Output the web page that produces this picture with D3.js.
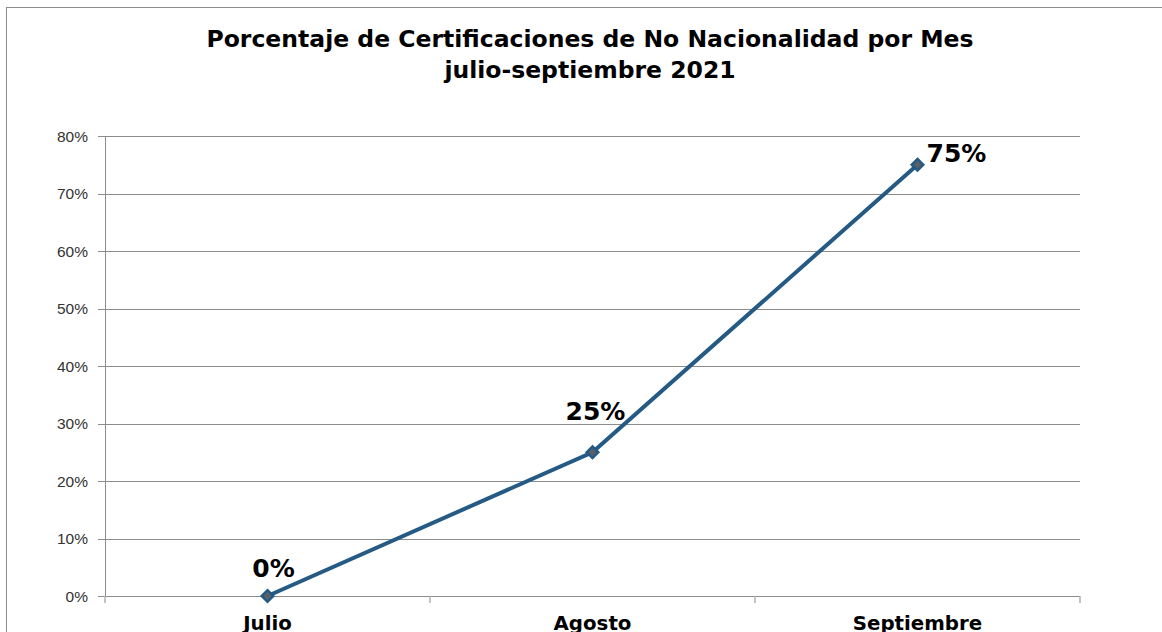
<!DOCTYPE html>
<html>
<head>
<meta charset="utf-8">
<script src="https://cdn.jsdelivr.net/npm/d3@7"></script>
<style>
  body { margin: 0; background: #fff; }
</style>
</head>
<body>
<div id="chart"></div>
<script>
const width = 1162;
const height = 632;

// data
const months = ["Julio", "Agosto", "Septiembre"];
const values = [0, 0.25, 0.75];
const yTicks = [0, 0.1, 0.2, 0.3, 0.4, 0.5, 0.6, 0.7, 0.8];
const titleLines = ["Porcentaje de Certificaciones de No Nacionalidad por Mes", "julio-septiembre 2021"];

const plot = {left: 105, right: 1080, top: 136, bottom: 596};

const svg = d3.select("#chart").append("svg")
    .attr("width", width)
    .attr("height", height);

// outer frame
svg.append("rect")
    .attr("x", 6.5).attr("y", 7.5)
    .attr("width", 1160).attr("height", 640)
    .attr("fill", "none")
    .attr("stroke", "#8c8c8c")
    .attr("stroke-width", 1);

// title
svg.append("g").selectAll("text")
  .data(titleLines)
  .join("text")
    .attr("x", 590)
    .attr("y", (d, i) => 47 + i * 31)
    .attr("text-anchor", "middle")
    .style("font", "bold 23.5px 'DejaVu Sans', Verdana, sans-serif")
    .attr("fill", "#000")
    .text(d => d);

const x = d3.scaleBand().domain(months).range([plot.left, plot.right]);
const y = d3.scaleLinear().domain([0, 0.8]).range([plot.bottom, plot.top]);

// gridlines
svg.append("g")
    .attr("stroke", "#8c8c8c")
    .attr("stroke-width", 1)
  .selectAll("line")
  .data(yTicks)
  .join("line")
    .attr("x1", plot.left - 7)
    .attr("x2", plot.right)
    .attr("y1", d => Math.round(y(d)) + 0.5)
    .attr("y2", d => Math.round(y(d)) + 0.5);

// y axis line
svg.append("line")
    .attr("x1", plot.left + 0.5).attr("x2", plot.left + 0.5)
    .attr("y1", plot.top).attr("y2", plot.bottom)
    .attr("stroke", "#8c8c8c");

// y labels
svg.append("g").selectAll("text")
  .data(yTicks)
  .join("text")
    .attr("x", 88)
    .attr("y", d => y(d) + 5.5)
    .attr("text-anchor", "end")
    .style("font", "15.5px 'Liberation Sans', Arial, sans-serif")
    .attr("fill", "#333")
    .text(d3.format(".0%"));

// x ticks at category boundaries
const bounds = months.map(m => x(m)).concat([plot.right]);
svg.append("g")
    .attr("stroke", "#b0b0b0")
    .attr("stroke-width", 1.5)
  .selectAll("line")
  .data(bounds)
  .join("line")
    .attr("x1", d => d).attr("x2", d => d)
    .attr("y1", plot.bottom).attr("y2", plot.bottom + 7);

// x labels
svg.append("g").selectAll("text")
  .data(months)
  .join("text")
    .attr("x", d => x(d) + x.bandwidth() / 2)
    .attr("y", 630)
    .attr("text-anchor", "middle")
    .style("font", "bold 19.8px 'DejaVu Sans', Verdana, sans-serif")
    .attr("fill", "#000")
    .text(d => d);

// line
const points = months.map((m, i) => [x(m) + x.bandwidth() / 2, y(values[i])]);
svg.append("path")
    .datum(points)
    .attr("fill", "none")
    .attr("stroke", "#245a84")
    .attr("stroke-width", 4)
    .attr("d", d3.line());

// markers
svg.append("g").selectAll("path")
  .data(points)
  .join("path")
    .attr("transform", d => `translate(${d[0]},${d[1]})`)
    .attr("d", d3.symbol(d3.symbolDiamond2, 85))
    .attr("fill", "#5a5f66")
    .attr("stroke", "#245a84")
    .attr("stroke-width", 2.5);

// data labels
const labelPos = [
  {dx: 6, dy: -19, anchor: "middle"},
  {dx: 3, dy: -32, anchor: "middle"},
  {dx: 9, dy: -3, anchor: "start"}
];
svg.append("g").selectAll("text")
  .data(points)
  .join("text")
    .attr("x", (d, i) => d[0] + labelPos[i].dx)
    .attr("y", (d, i) => d[1] + labelPos[i].dy)
    .attr("text-anchor", (d, i) => labelPos[i].anchor)
    .style("font", "bold 25px 'DejaVu Sans', Verdana, sans-serif")
    .attr("fill", "#000")
    .text((d, i) => d3.format(".0%")(values[i]));
</script>
</body>
</html>
